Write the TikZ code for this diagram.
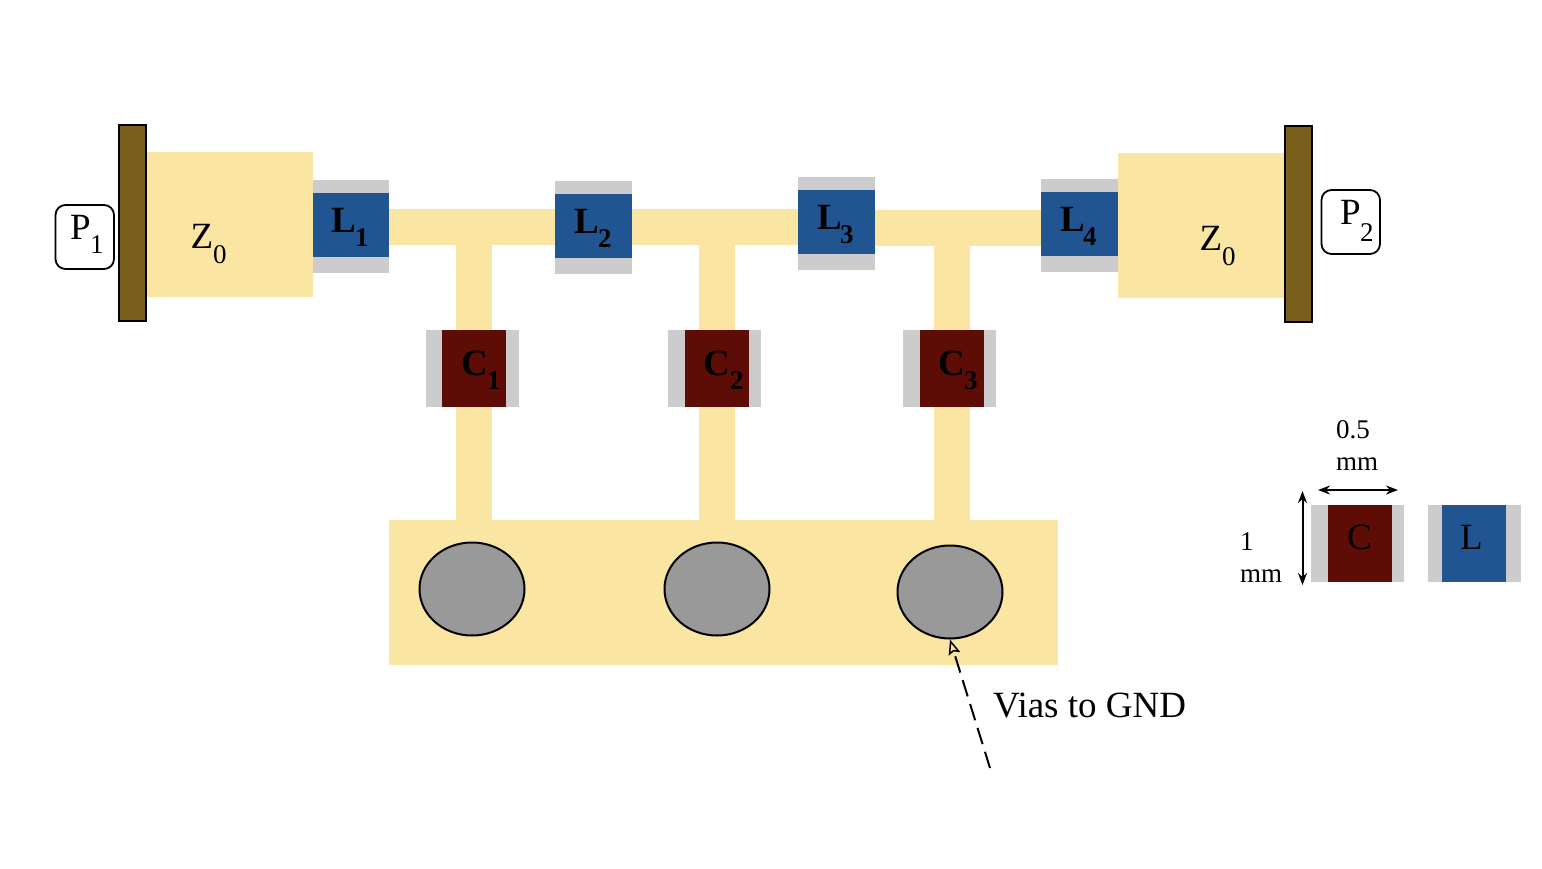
\documentclass[tikz,border=0pt]{standalone}
\usepackage{fontspec}
\setmainfont{Liberation Serif}
\usetikzlibrary{arrows.meta,shapes.geometric}
\definecolor{trace}{HTML}{FAE5A3}
\definecolor{lblue}{HTML}{215591}
\definecolor{cred}{HTML}{5E0C06}
\definecolor{padgray}{HTML}{CCCCCC}
\definecolor{viagray}{HTML}{999999}
\definecolor{portbrown}{HTML}{7A5F1C}
\tikzset{
  txt/.style={anchor=base west,inner sep=0pt,outer sep=0pt,font=\fontsize{37}{37}\selectfont},
  sub/.style={anchor=base west,inner sep=0pt,outer sep=0pt,font=\fontsize{27}{27}\selectfont},
  btxt/.style={txt,font=\fontsize{37}{37}\selectfont\bfseries},
  bsub/.style={sub,font=\fontsize{27}{27}\selectfont\bfseries},
  small/.style={sub},
  via/.style={ellipse,draw=black,line width=2pt,fill=viagray,minimum width=105pt,minimum height=93pt,inner sep=0pt},
  bar/.style={draw=black,line width=2pt,fill=portbrown},
  portbox/.style={draw=black,line width=1.8pt,fill=white,rounded corners=10pt},
  dim/.style={line width=2pt,{Stealth[length=12pt,width=9pt]}-{Stealth[length=12pt,width=9pt]}}
}
\newcommand{\hchip}[5]{% x1 x2 grayTop blueTop gap
  \fill[padgray] (#1,#3) rectangle (#2,#3+93);
  \fill[lblue] (#1,#4) rectangle (#2,#4+64);
}
\newcommand{\vchip}[4]{% grayLeft darkLeft top colour
  \fill[padgray] (#1,#3) rectangle (#1+93,#3+77);
  \fill[#4] (#2,#3) rectangle (#2+64,#3+77);
}
\begin{document}
\begin{tikzpicture}[x=1pt,y=-1pt]
\useasboundingbox (0,0) rectangle (1542,868);
% copper
\fill[trace] (147,152) rectangle (313,297);
\fill[trace] (1118,153) rectangle (1284,298);
\fill[trace] (389,209) rectangle (555,245);
\fill[trace] (632,209) rectangle (798,245);
\fill[trace] (875,210) rectangle (1041,246);
\fill[trace] (456,245) rectangle (492,520);
\fill[trace] (699,245) rectangle (735,520);
\fill[trace] (934,246) rectangle (970,520);
\fill[trace] (389,520) rectangle (1058,665);
% ports
\draw[bar] (119,124.5) rectangle (146,321);
\draw[bar] (1285,125.5) rectangle (1311.5,322);
\draw[portbox] (55.5,205) rectangle (114,269);
\draw[portbox] (1321.5,190) rectangle (1380,254);
% inductors
\hchip{313}{389}{180}{193}{}
\hchip{555}{632}{181}{194}{}
\hchip{798}{875}{177}{190}{}
\hchip{1041}{1118}{179}{192}{}
% capacitors
\vchip{426}{442}{330}{cred}
\vchip{668}{685}{330}{cred}
\vchip{903}{920}{330}{cred}
% legend chips
\vchip{1311}{1328}{505}{cred}
\vchip{1428}{1442}{505}{lblue}
% vias
\node[via] (v1) at (472,589) {};
\node[via] (v2) at (717,589) {};
\node[via] (v3) at (950,592) {};
% labels
\node[txt] (p1) at (70,239) {P};
\node[small] (p1s) at (90,253) {1};
\node[txt] (p2) at (1340,224) {P};
\node[small] (p2s) at (1360,241) {2};
\node[txt] (z1) at (190.5,248) {Z};
\node[sub] (z1s) at (213,263) {0};
\node[txt] (z2) at (1199.5,250) {Z};
\node[sub] (z2s) at (1222,265) {0};
\node[btxt] (l1) at (331,232) {L};
\node[bsub] (l1s) at (355,246) {1};
\node[btxt] (l2) at (574.5,233) {L};
\node[bsub] (l2s) at (598,247) {2};
\node[btxt] (l3) at (817,229) {L};
\node[bsub] (l3s) at (840,243) {3};
\node[btxt] (l4) at (1060,231) {L};
\node[bsub] (l4s) at (1083,245) {4};
\node[btxt] (c1) at (461,375) {C};
\node[bsub] (c1s) at (487,389) {1};
\node[btxt] (c2) at (703.5,375) {C};
\node[bsub] (c2s) at (730,389) {2};
\node[btxt] (c3) at (938.5,375) {C};
\node[bsub] (c3s) at (964,389) {3};
\node[txt] (lc) at (1347,549) {C};
\node[txt] (ll) at (1460,549) {L};
\node[small] (w1) at (1336,438) {0.5};
\node[small] (w2) at (1336,470) {mm};
\node[small] (h1) at (1240,550) {1};
\node[small] (h2) at (1240,582) {mm};
\node[txt] (vt) at (993,717) {Vias to GND};
% dimensions
\coordinate (dl) at (1318,490);
\coordinate (dr) at (1398,490);
\coordinate (dt) at (1302.5,491);
\coordinate (db) at (1302.5,585);
\draw[dim] (dl) -- (dr);
\draw[dim] (dt) -- (db);
% via pointer
\coordinate (pf) at (990,768);
\draw[line width=2pt,dash pattern=on 17pt off 8pt,-{Stealth[fill=trace,inset=2.5pt,length=15pt,width=12pt,line width=1.5pt]}] (pf) -- (v3.south);
\end{tikzpicture}
\end{document}
